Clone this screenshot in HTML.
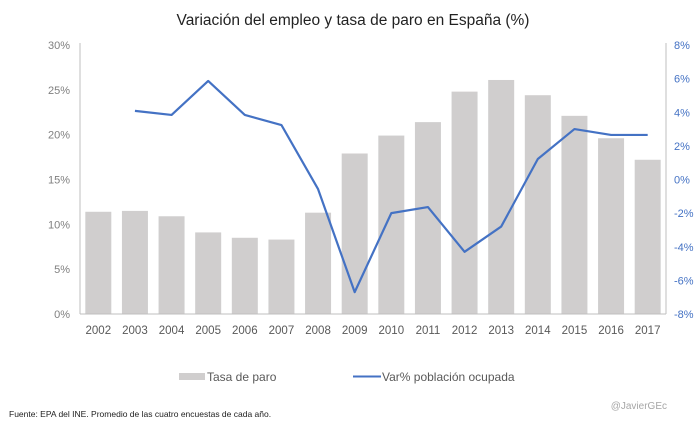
<!DOCTYPE html>
<html><head><meta charset="utf-8"><style>
body{margin:0;background:#fff;width:699px;height:426px;overflow:hidden;font-family:"Liberation Sans",sans-serif}
</style></head><body>
<svg id="chart" width="699" height="426" xmlns="http://www.w3.org/2000/svg"></svg>
<script>
const years=["2002","2003","2004","2005","2006","2007","2008","2009","2010","2011","2012","2013","2014","2015","2016","2017"];
const paro=[11.4,11.5,10.9,9.1,8.5,8.3,11.3,17.9,19.9,21.4,24.8,26.1,24.4,22.1,19.6,17.2];
const empleo=[null,4.08,3.84,5.86,3.84,3.24,-0.57,-6.7,-2.0,-1.64,-4.3,-2.8,1.22,3.0,2.65,2.65];
const leftTicks=[0,5,10,15,20,25,30];
const rightTicks=[-8,-6,-4,-2,0,2,4,6,8];
const NS="http://www.w3.org/2000/svg";
const svg=document.getElementById('chart');
const X0=80,X1=666,Y0=314,Y1=45;
const band=(X1-X0)/years.length;
const xc=i=>X0+band*(i+0.5);
const yL=v=>Y0-(v/30)*(Y0-Y1);
const yR=v=>Y0-((v+8)/16)*(Y0-Y1);
function mk(tag,attrs,parent){const e=document.createElementNS(NS,tag);for(const k in attrs)e.setAttribute(k,attrs[k]);(parent||svg).appendChild(e);return e;}
function txt(s,attrs){const t=mk('text',attrs);t.textContent=s;return t;}
let t=txt("Variación del empleo y tasa de paro en España (%)",{x:353,y:25,"text-anchor":"middle","font-size":"15.5",fill:"#222"});


paro.forEach((v,i)=>{const r=mk('rect',{x:xc(i)-13,y:yL(v),width:26,height:Y0-yL(v),fill:"#d0cece"});

});
let a=mk('line',{x1:X0,y1:Y1-2,x2:X0,y2:Y0,stroke:"#bfbfbf","stroke-width":1});


a=mk('line',{x1:X1,y1:Y1-2,x2:X1,y2:Y0,stroke:"#bfbfbf","stroke-width":1});


a=mk('line',{x1:X0,y1:Y0,x2:X1,y2:Y0,stroke:"#bfbfbf","stroke-width":1});


leftTicks.forEach(v=>{const e=txt(v+"%",{x:70,y:yL(v)+4,"text-anchor":"end","font-size":"11",fill:"#7f7f7f"});

});
rightTicks.forEach(v=>{const e=txt(v+"%",{x:674,y:yR(v)+4,"text-anchor":"start","font-size":"11",fill:"#4472c4"});

});
years.forEach((y,i)=>{const e=txt(y,{x:xc(i),y:334,"text-anchor":"middle","font-size":"11.5",fill:"#595959"});

});
let pts=[];empleo.forEach((v,i)=>{if(v!==null)pts.push(xc(i)+","+yR(v));});
const pl=mk('polyline',{points:pts.join(" "),fill:"none",stroke:"#4472c4","stroke-width":2.2,"stroke-linejoin":"round"});


let g=mk('rect',{x:179,y:373,width:26,height:7,fill:"#d0cece"});


g=txt("Tasa de paro",{x:207,y:381,"font-size":"12",fill:"#595959"});


g=mk('line',{x1:353,y1:376.5,x2:381,y2:376.5,stroke:"#4472c4","stroke-width":2});


g=txt("Var% población ocupada",{x:382,y:381,"font-size":"12",fill:"#595959"});


g=txt("@JavierGEc",{x:667,y:409,"text-anchor":"end","font-size":"10",fill:"#a6a6a6"});


g=txt("Fuente: EPA del INE. Promedio de las cuatro encuestas de cada año.",{x:9,y:417,"font-size":"8.5",fill:"#222"});


</script>
</body></html>
